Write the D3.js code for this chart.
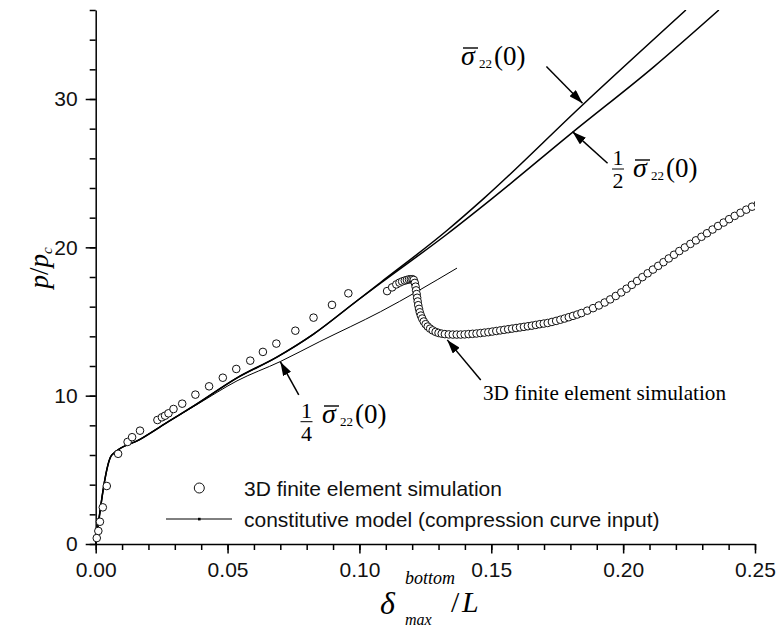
<!DOCTYPE html>
<html>
<head>
<meta charset="utf-8">
<script src="https://cdn.jsdelivr.net/npm/d3@7"></script>
<style>
  body { margin: 0; background: #fff; }
</style>
</head>
<body>
<div id="chart"></div>
<script>
// axis ticks
const xTicks = [0, 0.05, 0.10, 0.15, 0.20, 0.25];
const yTicks = [0, 10, 20, 30];

// constitutive model curves, one per initial stress  [delta/L, p/pc]
const curveFull = [[0,0],[0.0061,6.0],[0.0168,7.05],[0.028,8.3],[0.0384,9.45],[0.0536,11.2],[0.0687,12.6],
  [0.0826,14.15],[0.0991,16.4],[0.108,17.63],[0.1333,21.15],[0.1472,23.3],[0.1846,29.6],[0.2238,36.0]];
const curveHalf = [[0,0],[0.0061,6.0],[0.0168,7.05],[0.028,8.3],[0.0384,9.45],[0.0536,11.2],[0.0687,12.6],
  [0.0826,14.15],[0.0991,16.4],[0.108,17.58],[0.1333,20.9],[0.1504,23.3],[0.1808,27.75],[0.2115,32.15],[0.2363,36.0]];
const curveQuarter = [[0,0],[0.0061,6.0],[0.0168,7.05],[0.028,8.3],[0.0384,9.4],[0.0536,11.0],[0.070,12.3],
  [0.085,13.65],[0.108,15.66],[0.137,18.6]];

// 3D finite element simulation points
const femPoints = [
  [0.0004,0.4],[0.001,0.88],[0.0016,1.5],[0.0027,2.47],[0.0042,3.91],[0.0085,6.08],[0.0121,6.88],[0.0138,7.2],
  [0.0168,7.64],[0.0234,8.36],[0.0251,8.54],[0.0263,8.65],[0.0276,8.81],[0.0295,9.1],[0.0328,9.46],[0.0378,10.07],
  [0.043,10.63],[0.0482,11.21],[0.0533,11.8],[0.0586,12.36],[0.0634,12.95],[0.0685,13.51],[0.0757,14.38],
  [0.0826,15.26],[0.0896,16.12],[0.0958,16.9],[0.1105,17.05],[0.1124,17.3],[0.114,17.5],[0.1152,17.62],
  [0.1162,17.7],[0.1172,17.76],[0.118,17.8],[0.1188,17.84],[0.1195,17.85],[0.1201,17.85],[0.1206,17.8],
  [0.121,17.6],[0.1213,17.35],[0.1215,17.1],[0.1217,16.85],[0.1219,16.6],[0.1221,16.35],[0.1223,16.1],
  [0.1226,15.85],[0.1229,15.62],[0.1233,15.4],[0.1238,15.2],[0.1244,15.0],[0.1251,14.82],[0.1259,14.66],
  [0.1268,14.52],[0.1278,14.4],[0.1289,14.3],[0.13,14.23],[0.1312,14.18],[0.1324,14.15],[0.1339,14.13],
  [0.1354,14.12],[0.1369,14.12],[0.1384,14.12],[0.1399,14.13],[0.1414,14.15],[0.1429,14.17],[0.1444,14.19],
  [0.1459,14.22],[0.1474,14.25],[0.1489,14.28],[0.1504,14.32],[0.1519,14.36],[0.1534,14.4],[0.1549,14.44],
  [0.1564,14.48],[0.1579,14.52],[0.1594,14.56],[0.1609,14.6],[0.1624,14.64],[0.1639,14.68],[0.1654,14.72],
  [0.1669,14.77],[0.1684,14.82],[0.1699,14.86],[0.1714,14.9],[0.173,14.97],[0.1746,15.04],[0.1762,15.12],
  [0.1778,15.2],[0.1794,15.29],[0.181,15.38],[0.1826,15.47],[0.1842,15.57],[0.1864,15.73],[0.1886,15.9],
  [0.1908,16.08],[0.193,16.28],[0.1951,16.49],[0.1972,16.72],[0.1993,16.96],[0.2013,17.21],[0.2033,17.47],
  [0.2053,17.73],[0.2073,17.99],[0.2093,18.25],[0.2113,18.5],[0.2133,18.75],[0.2153,19.0],[0.2173,19.25],
  [0.2193,19.5],[0.2213,19.75],[0.2234,19.99],[0.2255,20.23],[0.2276,20.47],[0.2297,20.71],[0.2318,20.95],
  [0.2339,21.2],[0.236,21.44],[0.2381,21.67],[0.2402,21.9],[0.2423,22.12],[0.2445,22.33],[0.2467,22.54],
  [0.2489,22.74],[0.2511,22.92]];

const legendLabels = ["3D finite element simulation", "constitutive model (compression curve input)"];

// arrows: [tailX, tailY, tipX, tipY] in data units
const arrowFull = [0.1709, 32.19, 0.1846, 29.72];
const arrowHalf = [0.1941, 25.67, 0.1808, 27.8];
const arrowQuarter = [0.077, 10.05, 0.070, 12.29];
const arrowFem = [0.146, 11.06, 0.1333, 13.76];

let svg = d3.select("#chart").append("svg")
    .attr("width", 776).attr("height", 632);

let x = d3.scaleLinear().domain([0, 0.25]).range([95.7, 755]);
let y = d3.scaleLinear().domain([0, 36]).range([544, 10]);

let defs = svg.append("defs");
defs.append("clipPath").attr("id", "clip")
  .append("rect").attr("x", 0).attr("y", y(36)).attr("width", x(0.25)).attr("height", 632);

defs.append("marker")
    .attr("id", "head").attr("viewBox", "0 0 14 9")
    .attr("refX", 14).attr("refY", 4.5)
    .attr("markerWidth", 14).attr("markerHeight", 9)
    .attr("markerUnits", "userSpaceOnUse")
    .attr("orient", "auto")
  .append("path").attr("d", "M0,0 L14,4.5 L0,9 Z").attr("fill", "#000");

// minor ticks
svg.append("g")
    .attr("transform", `translate(0,${y(0)})`)
    .call(d3.axisBottom(x).tickValues(d3.range(0, 0.2501, 0.01)).tickSize(6).tickSizeOuter(0).tickFormat(""))
    .call(g => g.select(".domain").remove());
svg.append("g")
    .attr("transform", `translate(${x(0)},0)`)
    .call(d3.axisLeft(y).tickValues(d3.range(0, 36.1, 2)).tickSize(6).tickSizeOuter(0).tickFormat(""))
    .call(g => g.select(".domain").remove());

// major axes
svg.append("g")
    .attr("transform", `translate(0,${y(0)})`)
    .call(d3.axisBottom(x).tickValues(xTicks).tickSize(9.5).tickSizeOuter(0)
        .tickPadding(9).tickFormat(d3.format(".2f")));
svg.append("g")
    .attr("transform", `translate(${x(0)},0)`)
    .call(d3.axisLeft(y).tickValues(yTicks).tickSize(10).tickSizeOuter(0).tickPadding(8));

svg.selectAll(".tick line, .domain").attr("stroke", "#000").attr("stroke-width", 1.5);
svg.selectAll(".tick text")
    .style("font-family", "'Liberation Sans', Arial, sans-serif")
    .style("font-size", "21px").attr("fill", "#111");

// curves
let line = d3.line().x(d => x(d[0])).y(d => y(d[1])).curve(d3.curveMonotoneX);
let plot = svg.append("g").attr("clip-path", "url(#clip)");

plot.append("path").datum(curveQuarter).attr("d", line)
    .attr("fill", "none").attr("stroke", "#000").attr("stroke-width", 1);
plot.append("path").datum(curveHalf).attr("d", line)
    .attr("fill", "none").attr("stroke", "#000").attr("stroke-width", 1.5);
plot.append("path").datum(curveFull).attr("d", line)
    .attr("fill", "none").attr("stroke", "#000").attr("stroke-width", 1.5);

plot.selectAll("circle.fem").data(femPoints).enter().append("circle")
    .attr("class", "fem")
    .attr("cx", d => x(d[0])).attr("cy", d => y(d[1])).attr("r", 3.8)
    .attr("fill", "#fff").attr("stroke", "#111").attr("stroke-width", 1);

// arrows
[arrowFull, arrowHalf, arrowQuarter, arrowFem].forEach(a => {
    svg.append("line")
        .attr("x1", x(a[0])).attr("y1", y(a[1]))
        .attr("x2", x(a[2])).attr("y2", y(a[3]))
        .attr("stroke", "#000").attr("stroke-width", 1.5)
        .attr("marker-end", "url(#head)");
});

// sigma-bar label: px = left of sigma, py = baseline; optional fraction centred at fx with bar at fy
function sigmaLabel(px, py, denom, fx, fy) {
    let g = svg.append("g")
        .style("font-family", "'Liberation Serif', 'Times New Roman', serif");
    if (denom) {
        g.append("text").attr("x", fx).attr("y", fy - 4).attr("text-anchor", "middle")
            .style("font-size", "22px").text("1");
        g.append("line").attr("x1", fx - 6).attr("x2", fx + 6).attr("y1", fy).attr("y2", fy)
            .attr("stroke", "#000").attr("stroke-width", 1);
        g.append("text").attr("x", fx).attr("y", fy + 19).attr("text-anchor", "middle")
            .style("font-size", "22px").text(denom);
    }
    g.append("text").attr("x", px).attr("y", py)
        .style("font-size", "28px").style("font-style", "italic").text("σ");
    g.append("line").attr("x1", px + 2).attr("x2", px + 17).attr("y1", py - 17).attr("y2", py - 17)
        .attr("stroke", "#000").attr("stroke-width", 1.4);
    g.append("text").attr("x", px + 18).attr("y", py + 3)
        .style("font-size", "13px").text("22");
    g.append("text").attr("x", px + 33).attr("y", py)
        .style("font-size", "27px").text("(0)");
}
sigmaLabel(461, 65);
sigmaLabel(633, 177, "2", 618, 169);
sigmaLabel(322, 423, "4", 306.5, 421.7);

svg.append("text")
    .attr("x", 483).attr("y", 400)
    .style("font-family", "'Liberation Serif', 'Times New Roman', serif")
    .style("font-size", "21.2px")
    .text("3D finite element simulation");

// legend
let lg = svg.append("g").style("font-family", "'Liberation Sans', Arial, sans-serif")
    .style("font-size", "21px");
lg.append("circle").attr("cx", 199.3).attr("cy", 488).attr("r", 5)
    .attr("fill", "#fff").attr("stroke", "#111").attr("stroke-width", 1);
lg.append("line").attr("x1", 166).attr("x2", 232).attr("y1", 519).attr("y2", 519)
    .attr("stroke", "#000").attr("stroke-width", 1);
lg.append("rect").attr("x", 198).attr("y", 517.8).attr("width", 2.6).attr("height", 2.6).attr("fill", "#000");
lg.selectAll("text.leg").data(legendLabels).enter().append("text")
    .attr("x", 244).attr("y", (d, i) => 495.5 + i * 31)
    .attr("fill", "#111")
    .text(d => d);

// axis titles
let yt = svg.append("text")
    .attr("transform", "translate(48,268) rotate(-90)")
    .attr("text-anchor", "middle")
    .style("font-family", "'Liberation Serif', 'Times New Roman', serif")
    .style("font-size", "27px");
yt.append("tspan").style("font-style", "italic").text("p");
yt.append("tspan").text("/");
yt.append("tspan").style("font-style", "italic").text("p");
yt.append("tspan").style("font-style", "italic").style("font-size", "15px").attr("dy", 4).text("c");

let xt = svg.append("g").style("font-family", "'Liberation Serif', 'Times New Roman', serif");
xt.append("text").attr("x", 380).attr("y", 614).style("font-size", "32px").style("font-style", "italic").text("δ");
xt.append("text").attr("x", 405).attr("y", 584).style("font-size", "18px").style("font-style", "italic").text("bottom");
xt.append("text").attr("x", 405).attr("y", 625).style("font-size", "16px").style("font-style", "italic").text("max");
xt.append("text").attr("x", 451).attr("y", 612).style("font-size", "30px").text("/");
xt.append("text").attr("x", 462).attr("y", 612).style("font-size", "30px").style("font-style", "italic").text("L");
</script>
</body>
</html>
